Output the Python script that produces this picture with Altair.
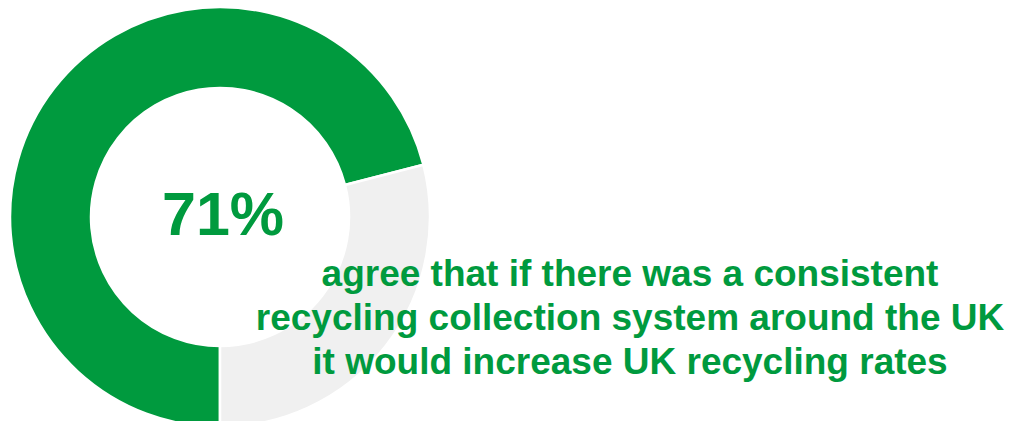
import math
import altair as alt
import pandas as pd

categories = ["Agree", "Other"]
values = [71, 29]
order_idx = [0, 1]
colors = ["#009A3E", "#F0F0F0"]

headline = "71%"
caption_lines = [
    "agree that if there was a consistent",
    "recycling collection system around the UK",
    "it would increase UK recycling rates",
]

df = pd.DataFrame({"category": categories, "value": values, "ord": order_idx})

CX, CY = 212, 209

arcs = alt.Chart(df).mark_arc(
    outerRadius=210, innerRadius=129, stroke="white", strokeWidth=2.5
).encode(
    theta=alt.Theta("value:Q", stack=True,
                    scale=alt.Scale(range=[math.pi, 3 * math.pi])),
    order=alt.Order("ord:Q"),
    color=alt.Color("category:N", legend=None,
                    scale=alt.Scale(domain=categories, range=colors)),
    x=alt.value(CX),
    y=alt.value(CY),
)

big = alt.Chart(pd.DataFrame({"t": [headline]})).mark_text(
    font="Liberation Sans", fontWeight="bold", fontSize=61,
    color="#009A3E", align="center", baseline="alphabetic"
).encode(text="t:N", x=alt.value(215), y=alt.value(227))

cap = alt.Chart(pd.DataFrame({"t": ["\n".join(caption_lines)]})).mark_text(
    font="Liberation Sans", fontWeight="bold", fontSize=37, lineHeight=44,
    lineBreak="\n", color="#009A3E", align="center", baseline="alphabetic"
).encode(text="t:N", x=alt.value(622), y=alt.value(278))

chart = alt.layer(arcs, big, cap).properties(
    width=999, height=413, padding=0,
    autosize=alt.AutoSizeParams(type="none"),
).configure_view(stroke=None)

chart.save("out.html", embed_options={"renderer": "svg", "actions": False})
